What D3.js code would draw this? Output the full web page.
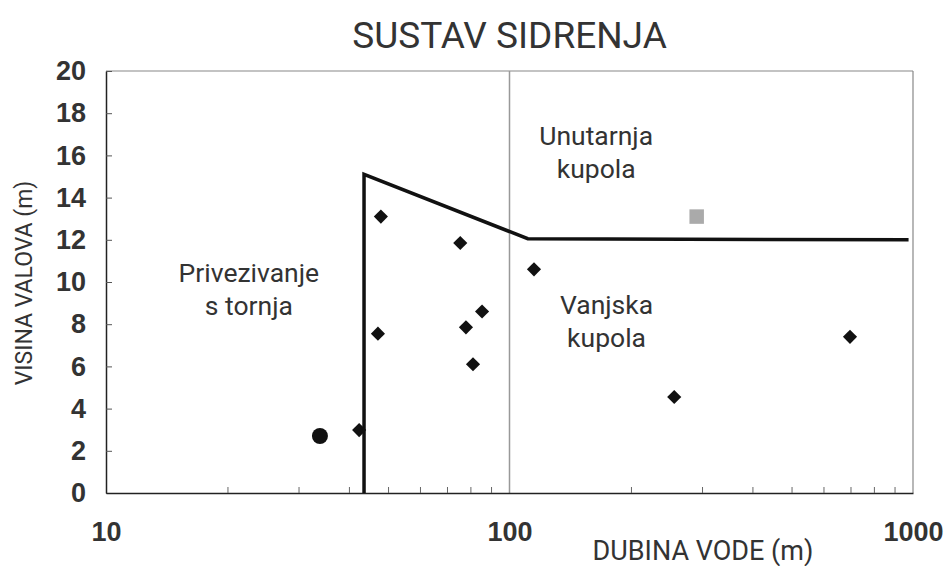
<!DOCTYPE html>
<html>
<head>
<meta charset="utf-8">
<script src="https://cdn.jsdelivr.net/npm/d3@7"></script>
<style>
  body { margin: 0; background: #fff; }
  text { font-family: Roboto, "Liberation Sans", sans-serif; fill: #333; }
</style>
</head>
<body>
<div id="chart"></div>
<script>
// data
const boundaryDepth = [43.6, 43.6, 111, 975];
const boundaryHeight = [0, 15.1, 12.05, 12.0];

const diamondDepth = [48, 75.5, 115, 47.2, 78, 85.5, 81.2, 256, 698, 42.4];
const diamondHeight = [13.1, 11.85, 10.6, 7.55, 7.85, 8.6, 6.1, 4.55, 7.4, 2.98];

const circleDepth = [33.9];
const circleHeight = [2.7];

const squareDepth = [291];
const squareHeight = [13.1];

const yTicks = [0, 2, 4, 6, 8, 10, 12, 14, 16, 18, 20];
const xTicks = [10, 100, 1000];

const regionLabels = [
  {lines: ["Privezivanje", "s tornja"], depth: 22.6, height: 10.0},
  {lines: ["Unutarnja", "kupola"], depth: 164, height: 16.5},
  {lines: ["Vanjska", "kupola"], depth: 174, height: 8.5}
];

const width = 945, height = 566;
const margin = {top: 71, right: 32, bottom: 73, left: 106};
const w = width - margin.left - margin.right;
const h = height - margin.top - margin.bottom;

const svg = d3.select("#chart").append("svg")
    .attr("width", width)
    .attr("height", height);

const g = svg.append("g")
    .attr("transform", "translate(" + margin.left + "," + margin.top + ")");

const x = d3.scaleLog().domain([10, 1000]).range([0, w]);
const y = d3.scaleLinear().domain([0, 20]).range([h, 0]);

// frame: top and right grey
g.append("line").attr("x1", 0).attr("x2", w).attr("y1", 0).attr("y2", 0)
  .attr("stroke", "#888").attr("stroke-width", 1.2);
g.append("line").attr("x1", w).attr("x2", w).attr("y1", 0).attr("y2", h)
  .attr("stroke", "#888").attr("stroke-width", 1.2);

// gridline at 100
g.append("line")
  .attr("x1", x(100)).attr("x2", x(100))
  .attr("y1", 0).attr("y2", h)
  .attr("stroke", "#999").attr("stroke-width", 1.5);

// y axis
const yAxis = g.append("g")
  .call(d3.axisLeft(y).tickValues(yTicks).tickSizeInner(-6).tickSizeOuter(0).tickPadding(20));
yAxis.select(".domain").attr("stroke", "#222").attr("stroke-width", 1.5);
yAxis.selectAll(".tick line").attr("stroke", "#555");
yAxis.selectAll("text")
  .attr("font-size", 27).attr("font-weight", "bold").attr("fill", "#222")
  .style("font-family", "'Liberation Sans', Arial, sans-serif");

// x axis minor ticks
let minor = [];
[10, 100].forEach(d => { for (let k = 2; k <= 9; k++) minor.push(d * k); });
const xMinor = g.append("g")
  .attr("transform", "translate(0," + h + ")")
  .call(d3.axisBottom(x).tickValues(minor).tickSizeInner(-6).tickSizeOuter(0).tickFormat(""));
xMinor.select(".domain").attr("stroke", "#222").attr("stroke-width", 1.5);
xMinor.selectAll(".tick line").attr("stroke", "#666");

// x axis labels
const xAxis = g.append("g")
  .attr("transform", "translate(0," + h + ")")
  .call(d3.axisBottom(x).tickValues(xTicks).tickSize(0).tickPadding(29).tickFormat(d3.format("d")));
xAxis.select(".domain").remove();
xAxis.selectAll("text")
  .attr("font-size", 27).attr("font-weight", "bold").attr("fill", "#222")
  .style("font-family", "'Liberation Sans', Arial, sans-serif");

// boundary line
const boundary = boundaryDepth.map((d, i) => [d, boundaryHeight[i]]);
g.append("path")
  .datum(boundary)
  .attr("fill", "none")
  .attr("stroke", "#111")
  .attr("stroke-width", 3.5)
  .attr("stroke-linejoin", "miter")
  .attr("d", d3.line().x(d => x(d[0])).y(d => y(d[1])));

// diamonds
g.selectAll(".diamond")
  .data(diamondDepth.map((d, i) => [d, diamondHeight[i]]))
  .enter().append("path")
    .attr("class", "diamond")
    .attr("d", d3.symbol().type(d3.symbolSquare).size(100))
    .attr("transform", d => "translate(" + x(d[0]) + "," + y(d[1]) + ") rotate(45)")
    .attr("fill", "#111");

// circle
g.selectAll(".circ")
  .data(circleDepth.map((d, i) => [d, circleHeight[i]]))
  .enter().append("circle")
    .attr("cx", d => x(d[0]))
    .attr("cy", d => y(d[1]))
    .attr("r", 8)
    .attr("fill", "#111");

// grey square
g.selectAll(".sq")
  .data(squareDepth.map((d, i) => [d, squareHeight[i]]))
  .enter().append("path")
    .attr("d", d3.symbol().type(d3.symbolSquare).size(210))
    .attr("transform", d => "translate(" + x(d[0]) + "," + y(d[1]) + ")")
    .attr("fill", "#aaa");

// region labels
regionLabels.forEach(r => {
  const t = g.append("text")
    .attr("x", x(r.depth))
    .attr("y", y(r.height))
    .attr("text-anchor", "middle")
    .attr("font-size", 26.5);
  r.lines.forEach((l, i) => {
    t.append("tspan").attr("x", x(r.depth)).attr("dy", i === 0 ? 0 : 33).text(l);
  });
});

// title
svg.append("text")
  .attr("x", margin.left + x(100))
  .attr("y", 48)
  .attr("text-anchor", "middle")
  .attr("font-size", 37)
  .text("SUSTAV SIDRENJA");

// axis titles
svg.append("text")
  .attr("x", 703)
  .attr("y", 560)
  .attr("text-anchor", "middle")
  .attr("font-size", 27)
  .text("DUBINA VODE (m)");

svg.append("text")
  .attr("transform", "translate(32,283) rotate(-90)")
  .attr("text-anchor", "middle")
  .attr("font-size", 23)
  .text("VISINA VALOVA (m)");
</script>
</body>
</html>
